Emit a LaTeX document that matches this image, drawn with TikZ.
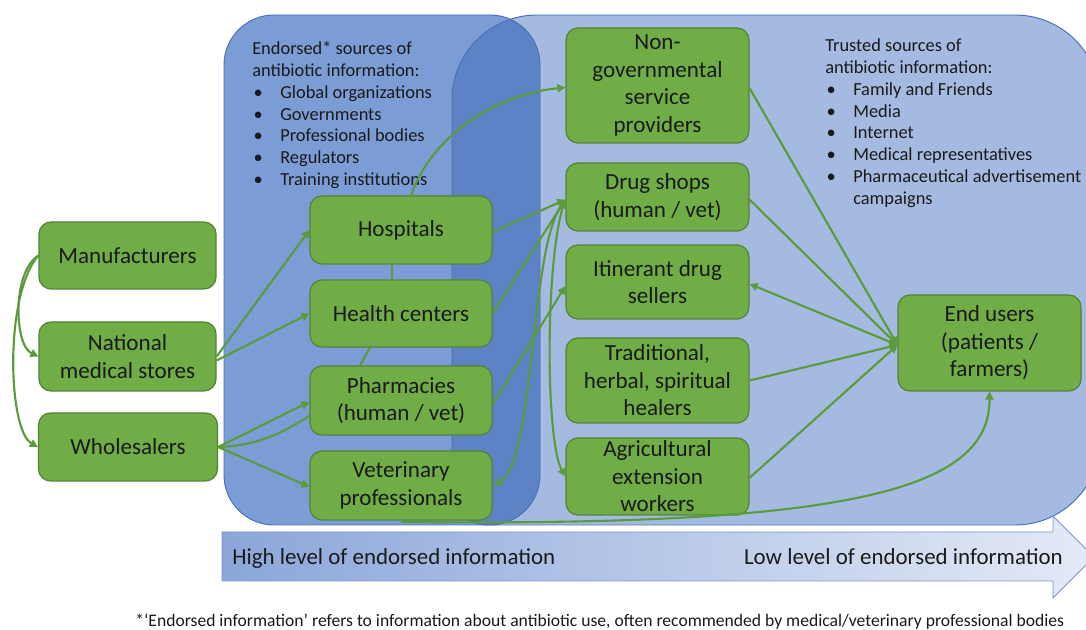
\documentclass[tikz,border=0pt]{standalone}
\usepackage{fontspec}
\setmainfont{Carlito}
\usetikzlibrary{arrows.meta}
\definecolor{boxgreen}{HTML}{70AD47}
\definecolor{boxborder}{HTML}{548235}
\definecolor{linecol}{HTML}{5B9B3B}
\definecolor{textcol}{HTML}{1A1A1A}
\definecolor{leftfill}{HTML}{7C9CD5}
\definecolor{rightfill}{HTML}{A5BAE0}
\definecolor{overlapfill}{HTML}{5D82C5}
\definecolor{panelborder}{HTML}{4A6FB5}
\definecolor{arrowleft}{HTML}{8CA6DA}
\definecolor{arrowright}{HTML}{E4EAF6}
\definecolor{arrowborder}{HTML}{7D96C8}
\newcommand\pbul{\makebox[21pt][l]{\hspace{1pt}•}}
\begin{document}
\begin{tikzpicture}[x=0.75pt,y=-0.75pt,
  box/.style={draw=boxborder, fill=boxgreen, line width=0.9pt, rounded corners=9pt,
    align=center, inner sep=0pt, text=textcol, font=\fontsize{17.3}{20.6}\selectfont},
  conn/.style={draw=linecol, line width=1.6pt, -{Triangle[length=6pt,width=6pt]}},
  dconn/.style={draw=linecol, line width=1.6pt, {Triangle[length=6pt,width=6pt]}-{Triangle[length=6pt,width=6pt]}},
  plainline/.style={draw=linecol, line width=1.6pt},
  paneltext/.style={inner sep=0pt, text=textcol, font=\fontsize{13.8}{16.3}\selectfont},
  arrowtext/.style={inner sep=0pt, text=textcol, font=\fontsize{17.2}{20}\selectfont}]
\useasboundingbox (0,0) rectangle (1086,630);
\fill[white] (0,0) rectangle (1086,630);

% panels
\fill[leftfill, rounded corners=37.5pt] (224,15) rectangle (540,525);
\fill[rightfill] (452,490) -- (452,100) .. controls (452,53) and (490,15) .. (537,15) -- (1015,15) .. controls (1062,15) and (1100,53) .. (1100,100) -- (1100,440) .. controls (1100,487) and (1062,525) .. (1015,525) -- (487,525) .. controls (468,525) and (452,509) .. (452,490) -- cycle;
\begin{scope}
\clip[rounded corners=37.5pt] (224,15) rectangle (540,525);
\fill[overlapfill] (452,490) -- (452,100) .. controls (452,53) and (490,15) .. (537,15) -- (1015,15) .. controls (1062,15) and (1100,53) .. (1100,100) -- (1100,440) .. controls (1100,487) and (1062,525) .. (1015,525) -- (487,525) .. controls (468,525) and (452,509) .. (452,490) -- cycle;
\end{scope}
\draw[panelborder, line width=0.7pt, rounded corners=37.5pt] (224,15) rectangle (540,525);
\draw[panelborder, line width=0.7pt] (452,490) -- (452,100) .. controls (452,53) and (490,15) .. (537,15) -- (1015,15) .. controls (1062,15) and (1100,53) .. (1100,100) -- (1100,440) .. controls (1100,487) and (1062,525) .. (1015,525) -- (487,525) .. controls (468,525) and (452,509) .. (452,490) -- cycle;

% bottom arrow
\shade[left color=arrowleft, right color=arrowright, draw=arrowborder, line width=0.7pt]
  (222,532) -- (1053,532) -- (1053,516) -- (1094,557) -- (1053,598) -- (1053,581) -- (222,581) -- cycle;
\node[arrowtext, anchor=base west] (hightxt) at (232,565) {High level of endorsed information};
\node[arrowtext, anchor=base east] (lowtxt) at (1063,565) {Low level of endorsed information};

% footnote
\node[inner sep=0pt, text=textcol, font=\fontsize{13.2}{15}\selectfont, anchor=base west] (foot) at (135,627)
  {*‘Endorsed information’ refers to information about antibiotic use, often recommended by medical/veterinary professional bodies};

% panel texts
\node[paneltext, anchor=base west] (endtxt) at (252,55) {\begin{tabular}[t]{@{}l@{}}Endorsed* sources of\\antibiotic information:\\\pbul Global organizations\\\pbul Governments\\\pbul Professional bodies\\\pbul Regulators\\\pbul Training institutions\end{tabular}};
\node[paneltext, anchor=base west] (trusttxt) at (825,52) {\begin{tabular}[t]{@{}l@{}}Trusted sources of\\antibiotic information:\\\pbul Family and Friends\\\pbul Media\\\pbul Internet\\\pbul Medical representatives\\\pbul Pharmaceutical advertisement\\\makebox[21pt]{}campaigns\end{tabular}};

% nodes
\node[box, minimum width=132.75pt, minimum height=50.25pt] (man) at (127.5,255.5) {Manufacturers};
\node[box, minimum width=132.75pt, minimum height=51.75pt] (nms) at (127.5,356.5) {National\\medical stores};
\node[box, minimum width=134.25pt, minimum height=51pt] (who) at (128,447) {Wholesalers};
\node[box, minimum width=136.5pt, minimum height=51pt] (hos) at (401,230) {Hospitals};
\node[box, minimum width=136.5pt, minimum height=50.25pt] (hc) at (401,313.5) {Health centers};
\node[box, minimum width=136.5pt, minimum height=51.75pt] (pha) at (401,400.5) {Pharmacies\\(human / vet)};
\node[box, minimum width=136.5pt, minimum height=51.75pt] (vet) at (401,485.5) {Veterinary\\professionals};
\node[box, minimum width=137.25pt, minimum height=86.25pt] (ngo) at (657.5,85.5) {Non-\\governmental\\service\\providers};
\node[box, minimum width=137.25pt, minimum height=51pt] (ds) at (657.5,197) {Drug shops\\(human / vet)};
\node[box, minimum width=137.25pt, minimum height=55.5pt] (ids) at (657.5,282) {Itinerant drug\\sellers};
\node[box, minimum width=137.25pt, minimum height=63.75pt] (trad) at (657.5,380.5) {Traditional,\\herbal, spiritual\\healers};
\node[box, minimum width=137.25pt, minimum height=57.75pt] (agr) at (657.5,476.5) {Agricultural\\extension\\workers};
\node[box, minimum width=137.25pt, minimum height=72pt] (eu) at (989.5,343) {End users\\(patients /\\farmers)};

% connectors
\draw[conn] (man.west) .. controls (12,272) and (14,345) .. (nms.west);
\draw[conn] (man.west) .. controls (4,295) and (8,430) .. (who.west);
\draw[conn] (nms.east) -- (hos.west);
\draw[conn] ([yshift=-3pt]nms.east) -- (hc.west);
\draw[conn] (who.east) -- ([yshift=-1pt]pha.west);
\draw[plainline] (who.east) .. controls (262,446) and (290,428) .. ([yshift=-11.5pt]pha.west);
\draw[conn] (who.east) -- ([yshift=-1pt]vet.west);
\draw[plainline] ([xshift=-6.75pt]hos.south) -- ([xshift=-6.75pt]hc.north);
\draw[plainline] ([xshift=-23.25pt]hc.south) -- ([xshift=-30.75pt]pha.north);
\draw[conn] ([xshift=7.5pt]hos.north) .. controls (430,140) and (490,95) .. ([yshift=-1.5pt]ngo.west);
\draw[conn] ([yshift=-1.5pt]hos.east) -- ([yshift=-2pt]ds.west);
\draw[conn] (hc.east) -- ([yshift=-2pt]ds.west);
\draw[conn] ([yshift=-3pt]pha.east) -- ([yshift=-3pt]ids.west);
\draw[dconn] ([yshift=-2pt]ds.west) .. controls (530,250) and (535,460) .. ([xshift=1pt]vet.east);
\draw[conn] ([yshift=-2pt]ds.west) .. controls (545,250) and (545,440) .. (agr.west);
\draw[conn] ([yshift=-2pt]ngo.east) -- ([yshift=-1.5pt]eu.west);
\draw[conn] ([yshift=-2pt]ds.east) -- ([yshift=-1.5pt]eu.west);
\draw[conn] ([yshift=-1.5pt]eu.west) -- ([yshift=-1.5pt]ids.east);
\draw[conn] (trad.east) -- ([yshift=-1.5pt]eu.west);
\draw[conn] ([yshift=-1pt]agr.east) -- ([yshift=-1.5pt]eu.west);
\draw[conn] ([yshift=-1pt]vet.south) .. controls (850,527) and (990,490) .. (eu.south);
\end{tikzpicture}
\end{document}
